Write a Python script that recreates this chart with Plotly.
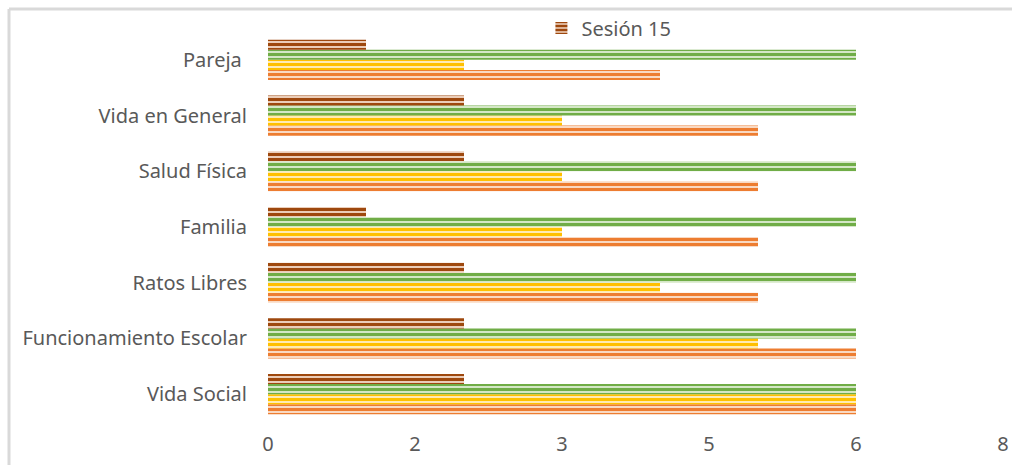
import plotly.graph_objects as go

categories = ["Vida Social", "Funcionamiento Escolar", "Ratos Libres", "Familia",
              "Salud Física", "Vida en General", "Pareja\u00a0"]
series_names = ["Sesión 1", "Sesión 5", "Sesión 10", "Sesión 15"]
s1 = [6, 6, 5, 5, 5, 5, 4]
s2 = [6, 5, 4, 3, 3, 3, 2]
s3 = [6, 6, 6, 6, 6, 6, 6]
s4 = [2, 2, 2, 1, 2, 2, 1]
tick_vals = [0, 1.5, 3, 4.5, 6, 7.5]
tick_text = ["0", "2", "3", "5", "6", "8"]

fg = ["#ED7D31", "#FFC000", "#70AD47", "#9E480E"]
bg = ["#F9D9C2", "#FFEBB3", "#D4E7C6", "#EBCDB8"]
show = [False, False, False, True]

W, H = 1012, 465
L, T, R, B = 268, 32, 9, 43
pw, ph = W - L - R, H - T - B

fig = go.Figure()
for name, vals, f, b, sh in zip(series_names, [s1, s2, s3, s4], fg, bg, show):
    fig.add_trace(go.Bar(
        y=categories, x=vals, name=name, orientation="h", showlegend=sh,
        marker=dict(color=b, line=dict(width=0),
                    pattern=dict(shape="-", fgcolor=f, bgcolor=b, size=5, solidity=0.6,
                                 fgopacity=1, fillmode="replace")),
    ))

bx = (9 - L) / pw
by = (H - B - 9) / ph

fig.update_layout(
    width=W, height=H,
    margin=dict(l=L, r=R, t=T, b=B, autoexpand=False),
    barmode="group", bargap=0.28, bargroupgap=0,
    plot_bgcolor="white", paper_bgcolor="white",
    font=dict(family="Noto Sans", color="#595959", size=20),
    legend=dict(orientation="h", x=0.372, y=(H - B - 28) / ph, xanchor="left", yanchor="middle",
                font=dict(size=20, color="#595959"), bgcolor="rgba(0,0,0,0)",
                itemwidth=30),
    xaxis=dict(range=[0, 7.5], tickvals=tick_vals, ticktext=tick_text, showgrid=False,
               zeroline=False, showline=False, ticks="", tickfont=dict(size=20),
               ticklabelstandoff=8),
    yaxis=dict(showgrid=False, zeroline=False, showline=False, ticks="",
               ticklabelstandoff=20, tickfont=dict(size=20)),
    shapes=[
        dict(type="line", xref="paper", yref="paper", x0=bx, x1=1.2,
             y0=by, y1=by, line=dict(color="#D9D9D9", width=3)),
        dict(type="line", xref="paper", yref="paper", x0=bx, x1=bx,
             y0=by, y1=-0.3, line=dict(color="#D9D9D9", width=3)),
    ],
)

fig.write_html("out.html", config={"displayModeBar": False},
               post_script="document.body.style.margin='0';document.body.style.overflow='hidden';")
